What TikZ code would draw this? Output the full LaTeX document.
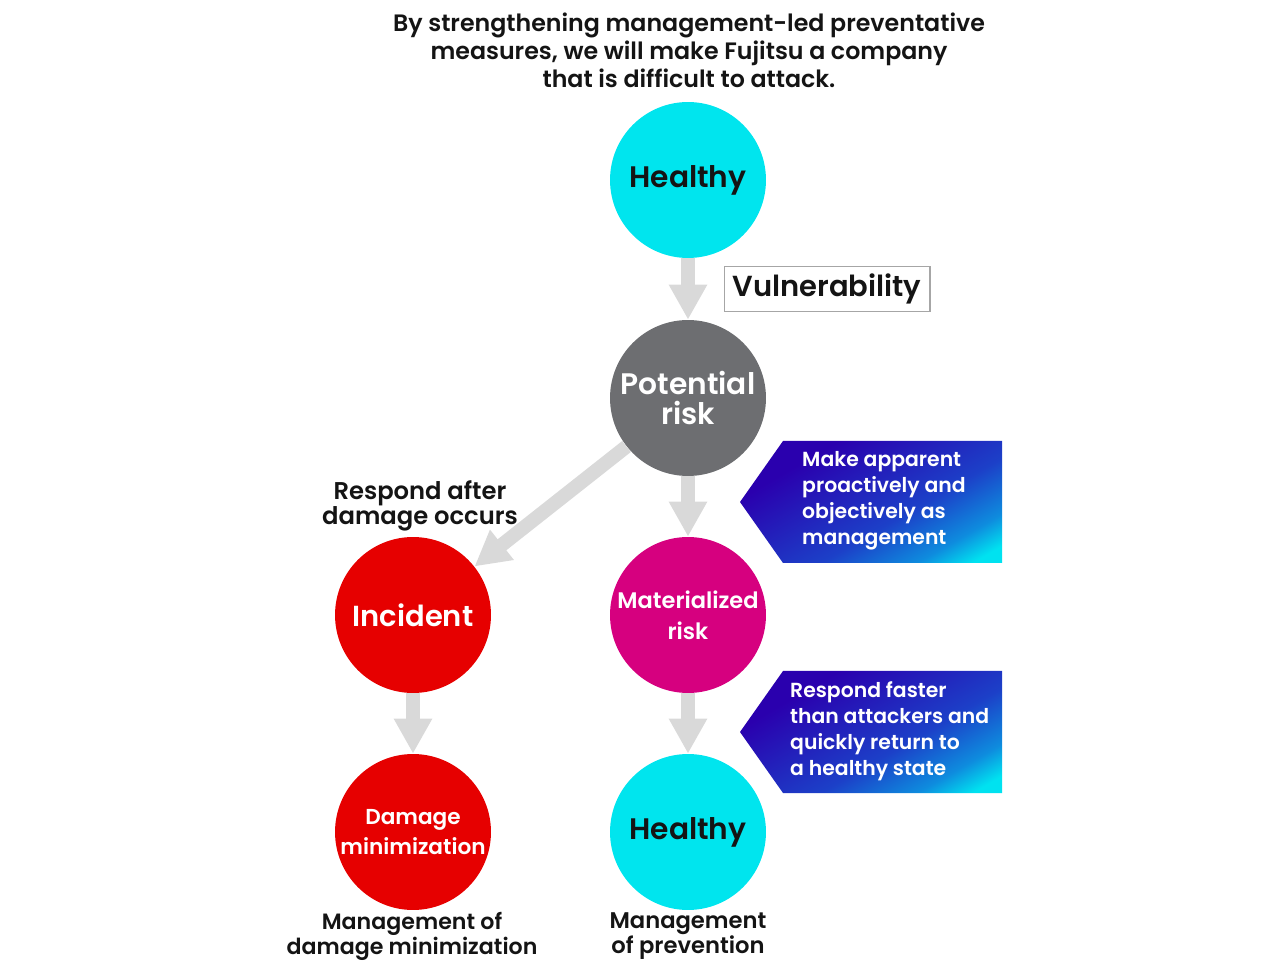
\documentclass[tikz,border=0pt]{standalone}
\usepackage{fontspec}
\setmainfont{Poppins}[BoldFont={Poppins SemiBold}]
\usetikzlibrary{arrows.meta}
\definecolor{healthycyan}{RGB}{0,229,238}
\definecolor{riskgray}{RGB}{109,110,113}
\definecolor{incidentred}{RGB}{230,0,0}
\definecolor{riskmagenta}{RGB}{214,0,127}
\definecolor{flowgray}{RGB}{217,217,217}
\definecolor{notedark}{RGB}{42,0,174}
\definecolor{notemid}{RGB}{28,64,200}
\definecolor{notelight}{RGB}{14,140,222}
\definecolor{notecyan}{RGB}{0,226,240}
\definecolor{inkblack}{RGB}{20,20,20}
\pgfdeclarehorizontalshading{notefade}{100bp}{color(0bp)=(notedark); color(30bp)=(notedark);
   color(58bp)=(notemid); color(72bp)=(notelight); color(80bp)=(notecyan); color(100bp)=(notecyan)}
\begin{document}
\begin{tikzpicture}[
   x=0.02cm, y=0.02cm,
   state/.style={circle, minimum size=3.12cm, inner sep=0pt, align=center, font=\bfseries},
   flow/.style={-{Triangle[length=0.7cm, width=0.72cm]}, line width=0.28cm, draw=flowgray},
   caption/.style={align=center, text=inkblack, font=\bfseries\fontsize{13.8pt}{14.3pt}\selectfont},
   note/.style={anchor=west, align=left, text=white, font=\bfseries\fontsize{11.6pt}{14.8pt}\selectfont},
   notebox/.style={shading=notefade, shading angle=-60}
]
\useasboundingbox (0,0) rectangle (1280,960);

% Title
\node[caption, font=\bfseries\fontsize{13.5pt}{15.9pt}\selectfont] (title) at (689,910)
   {By strengthening management-led preventative\\measures, we will make Fujitsu a company\\that is difficult to attack.};

% States
\node[state, fill=healthycyan, text=inkblack, font=\bfseries\fontsize{16.9pt}{20pt}\selectfont] (healthyA) at (688,780) {Healthy};
\node[state, fill=riskgray, text=white, font=\bfseries\fontsize{16.9pt}{17.6pt}\selectfont] (potential) at (688,562) {Potential\\risk};
\node[state, fill=incidentred, text=white, font=\bfseries\fontsize{16.5pt}{18pt}\selectfont] (incident) at (413,345) {Incident};
\node[state, fill=riskmagenta, text=white, font=\bfseries\fontsize{12.8pt}{17.6pt}\selectfont] (materialized) at (688,345) {Materialized\\risk};
\node[state, fill=incidentred, text=white, font=\bfseries\fontsize{12.3pt}{17pt}\selectfont] (damage) at (413,128) {Damage\\minimization};
\node[state, fill=healthycyan, text=inkblack, font=\bfseries\fontsize{16.9pt}{20pt}\selectfont] (healthyB) at (688,128) {Healthy};

% Flows
\draw[flow] (healthyA) -- (potential);
\draw[flow] (potential) -- (materialized);
\draw[flow] (potential) -- (incident);
\draw[flow] (incident) -- (damage);
\draw[flow] (materialized) -- (healthyB);

% Labels
\node[draw=gray!70, line width=0.6pt, minimum width=4.12cm, minimum height=0.9cm, inner sep=0pt,
   text=inkblack, font=\bfseries\fontsize{16.5pt}{18pt}\selectfont] (vuln) at (827,671) {Vulnerability};
\node[caption] (respond) at (420,454) {Respond after\\damage occurs};
\node[caption, font=\bfseries\fontsize{12.6pt}{13.3pt}\selectfont] (mgmtdamage) at (412,24) {Management of\\damage minimization};
\node[caption, font=\bfseries\fontsize{12.9pt}{13.3pt}\selectfont] (mgmtprev) at (688,24) {Management\\of prevention};

% Notes
\shade[notebox] (740,458) -- (783,519) -- (1002,519) -- (1002,397) -- (783,397) -- cycle;
\node[note] (noteA) at (796,459) {Make apparent\\proactively and\\objectively as\\management};
\shade[notebox] (740,228) -- (783,289) -- (1002,289) -- (1002,167) -- (783,167) -- cycle;
\node[note] (noteB) at (784,229) {Respond faster\\than attackers and\\quickly return to\\a healthy state};
\end{tikzpicture}
\end{document}
